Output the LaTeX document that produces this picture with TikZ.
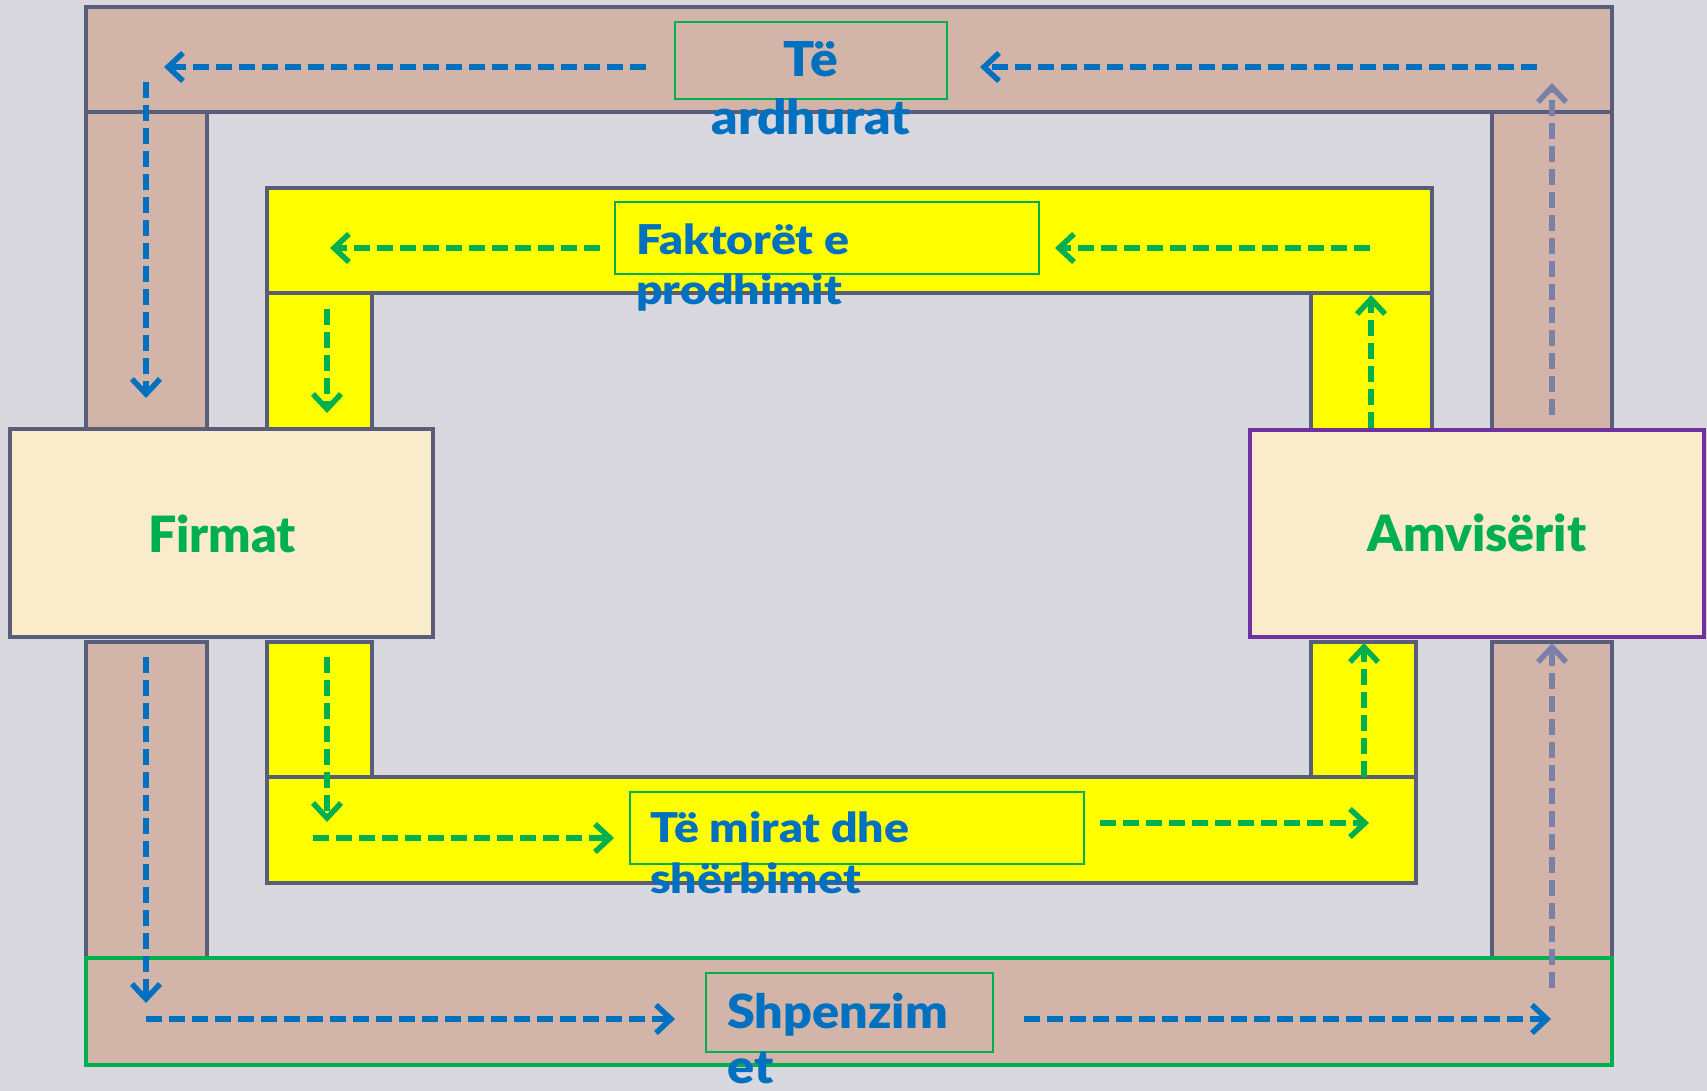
\documentclass[tikz,border=0pt]{standalone}
\usepackage{fontspec}
\setmainfont{Lato}[BoldFont={Lato Black}]
\newfontfamily\lblwide{Lato Black}[FakeStretch=1.13]
\newfontfamily\lblmid{Lato Black}[FakeStretch=1.07]
\usetikzlibrary{arrows.meta}
\definecolor{bgc}{HTML}{D9D8DE}
\definecolor{brownc}{HTML}{D2B4A8}
\definecolor{edgec}{HTML}{585D7A}
\definecolor{yelc}{HTML}{FFFF00}
\definecolor{creamc}{HTML}{FAECCB}
\definecolor{greenc}{HTML}{00B050}
\definecolor{bluec}{HTML}{0070C0}
\definecolor{purplec}{HTML}{7030A0}
\definecolor{greyarr}{HTML}{7A80A8}
\tikzset{
  brownbar/.style={fill=brownc, draw=edgec, line width=4pt},
  yellowbar/.style={fill=yelc, draw=edgec, line width=4pt},
  agent/.style={fill=creamc, draw=edgec, line width=4pt, rectangle, inner sep=0pt},
  lblbox/.style={draw=greenc, line width=2.2pt, rectangle, inner sep=0pt},
  flow/.style={line width=5.5pt, dash pattern=on 16pt off 7pt,
    -{Straight Barb[length=15pt,width=28pt,line width=5.5pt]}},
  blueflow/.style={flow, draw=bluec},
  greenflow/.style={flow, draw=greenc},
  greyflow/.style={flow, draw=greyarr},
  bluetext/.style={text=bluec, inner sep=0pt},
  agenttext/.style={text=greenc, font=\fontsize{50}{58}\selectfont\bfseries, inner sep=0pt},
}
\begin{document}
\begin{tikzpicture}[x=1pt,y=-1pt]
\fill[bgc] (0,0) rectangle (1707,1091);
\useasboundingbox (0,0) rectangle (1707,1091);
% outer (money) ring
\draw[brownbar] (86,7) rectangle (1612,112);
\draw[brownbar] (86,112) rectangle (207,429);
\draw[brownbar] (1492,112) rectangle (1612,430);
\draw[brownbar] (86,642) rectangle (207,958);
\draw[brownbar] (1492,642) rectangle (1612,958);
\draw[fill=brownc, draw=greenc, line width=4pt] (86,958) rectangle (1612,1065);
% inner (goods) ring
\draw[yellowbar] (267,188) rectangle (1432,293);
\draw[yellowbar] (267,293) rectangle (372,429);
\draw[yellowbar] (1311,293) rectangle (1432,430);
\draw[yellowbar] (267,642) rectangle (372,777);
\draw[yellowbar] (1311,642) rectangle (1416,777);
\draw[yellowbar] (267,777) rectangle (1416,883);
% agents
\node[agent, minimum width=423pt, minimum height=208pt] (firmat) at (221.5,533) {};
\node[agent, draw=purplec, minimum width=454pt, minimum height=207pt] (amv) at (1477,533.5) {};
\node[agenttext, anchor=base] (firmatT) at (222,552) {Firmat};
\node[agenttext, anchor=base] (amvT) at (1477,551) {Amvisërit};
% label boxes
\node[lblbox, minimum width=272pt, minimum height=77pt] (teb) at (811,60.5) {};
\node[lblbox, minimum width=424pt, minimum height=72pt] (fakb) at (827,238) {};
\node[lblbox, minimum width=454pt, minimum height=72pt] (mirb) at (857,828) {};
\node[lblbox, minimum width=287pt, minimum height=79pt] (shpb) at (849.5,1012.5) {};
\node[bluetext, font=\fontsize{48}{58}\selectfont\lblmid, align=center, anchor=base] (teT) at (811,135) {Të\\ardhurat};
\node[bluetext, font=\fontsize{41}{51}\selectfont\lblwide, align=left, anchor=base west] (fakT) at (636,305) {Faktorët e\\prodhimit};
\node[bluetext, font=\fontsize{41}{51}\selectfont\lblwide, align=left, anchor=base west] (mirT) at (650,893) {Të mirat dhe\\shërbimet};
\node[bluetext, font=\fontsize{47}{55}\selectfont\lblmid, align=left, anchor=base west] (shpT) at (727,1083) {Shpenzim\\et};
% arrow end points
\coordinate (b1s) at (1537,67); \coordinate (b1e) at (980,67);
\coordinate (b2s) at (646,67);  \coordinate (b2e) at (164,67);
\coordinate (b3s) at (146,82);  \coordinate (b3e) at (146,398);
\coordinate (b4s) at (146,657); \coordinate (b4e) at (146,1003);
\coordinate (b5s) at (146,1019); \coordinate (b5e) at (675,1019);
\coordinate (b6s) at (1024,1019); \coordinate (b6e) at (1551,1019);
\coordinate (g7s) at (1552,988); \coordinate (g7e) at (1552,643);
\coordinate (g8s) at (1552,415); \coordinate (g8e) at (1552,83);
\coordinate (n1s) at (1370,248); \coordinate (n1e) at (1055,248);
\coordinate (n2s) at (600,248);  \coordinate (n2e) at (330,248);
\coordinate (n3s) at (327,309);  \coordinate (n3e) at (327,413);
\coordinate (n4s) at (327,657);  \coordinate (n4e) at (327,822);
\coordinate (n5s) at (313,838);  \coordinate (n5e) at (614,838);
\coordinate (n6s) at (1100,823); \coordinate (n6e) at (1369,823);
\coordinate (n7s) at (1364,777); \coordinate (n7e) at (1364,643);
\coordinate (n8s) at (1371,428); \coordinate (n8e) at (1371,295);
% money flows
\draw[blueflow] (b1s) -- (b1e);
\draw[blueflow] (b2s) -- (b2e);
\draw[blueflow] (b3s) -- (b3e);
\draw[blueflow] (b4s) -- (b4e);
\draw[blueflow] (b5s) -- (b5e);
\draw[blueflow] (b6s) -- (b6e);
\draw[greyflow] (g7s) -- (g7e);
\draw[greyflow] (g8s) -- (g8e);
% goods flows
\draw[greenflow] (n1s) -- (n1e);
\draw[greenflow] (n2s) -- (n2e);
\draw[greenflow] (n3s) -- (n3e);
\draw[greenflow] (n4s) -- (n4e);
\draw[greenflow] (n5s) -- (n5e);
\draw[greenflow] (n6s) -- (n6e);
\draw[greenflow] (n7s) -- (n7e);
\draw[greenflow] (n8s) -- (n8e);
\end{tikzpicture}
\end{document}
